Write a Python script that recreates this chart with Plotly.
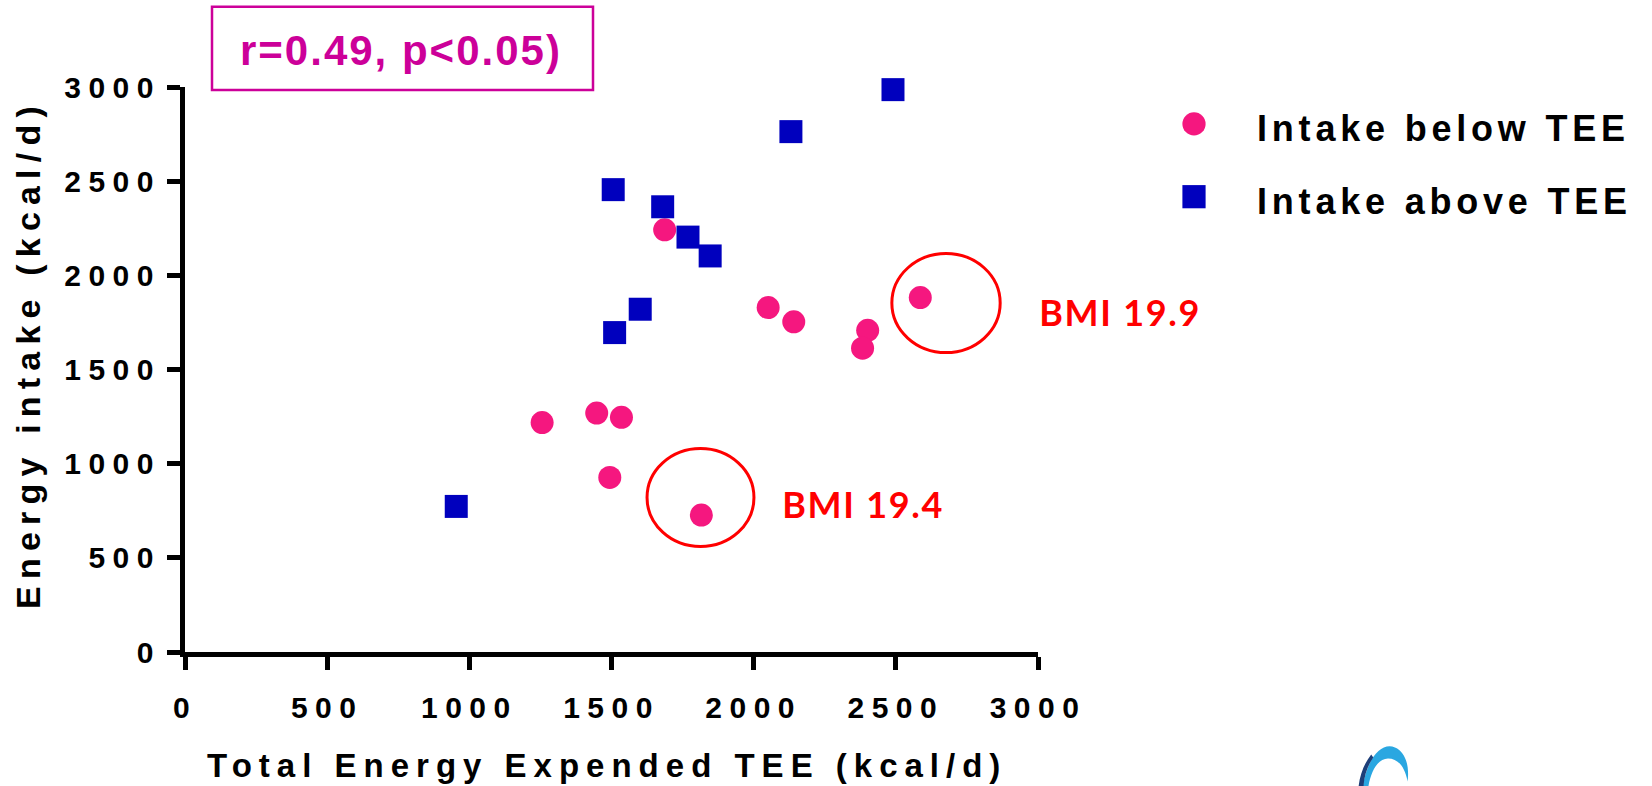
import plotly.graph_objects as go

# ---- data ----
below_x = [1687, 2051, 2141, 2401, 2383, 2586, 1256, 1448, 1535, 1494, 1816]
below_y = [2242, 1829, 1753, 1708, 1613, 1882, 1218, 1269, 1246, 927, 727]
above_x = [2490, 2131, 1506, 1680, 1769, 1847, 1601, 1511, 954]
above_y = [2986, 2763, 2455, 2364, 2203, 2103, 1820, 1696, 773]

tick_vals = [0, 500, 1000, 1500, 2000, 2500, 3000]
tick_text = ["0", "500", "1000", "1500", "2000", "2500", "3000"]

series_names = ["Intake below TEE", "Intake above TEE"]
x_title = "Total Energy Expended TEE (kcal/d)"
y_title = "Energy intake (kcal/d)"
stat_text = "r=0.49, p<0.05)"
bmi_labels = ["BMI 19.9", "BMI 19.4"]

PINK = "#F5177F"
BLUE = "#0000BE"
MAG = "#CC0099"
RED = "#FF0000"
AX_FONT = dict(family="Liberation Sans, Arial", weight="bold", color="black")

fig = go.Figure()
fig.add_trace(go.Scatter(
    x=below_x, y=below_y, mode="markers", name=series_names[0],
    legendgroup="a", cliponaxis=False,
    marker=dict(symbol="circle", size=23, color=PINK, line=dict(width=0)),
))
fig.add_trace(go.Scatter(
    x=above_x, y=above_y, mode="markers", name=series_names[1],
    legendgroup="b", cliponaxis=False,
    marker=dict(symbol="square", size=23, color=BLUE, line=dict(width=0)),
))

L, R_PX, T, B = 185, 1038, 87, 652.5
W, H = 1652, 786
pw, ph = R_PX - L, B - T

def px_x(p):
    return (p - L) / pw

def px_y(p):
    return (B - p) / ph

LOGO_X0, LOGO_SX = 1360, 0.7

def paper_path(cmds):
    out = []
    for c, pts in cmds:
        seg = c + " " + " ".join(
            "%.5f,%.5f" % (px_x(LOGO_X0 + (a - LOGO_X0) * LOGO_SX), px_y(b)) for a, b in pts)
        out.append(seg)
    return " ".join(out) + " Z"

# decorative logo fragment at the bottom-right corner (cut off in the reference)
logo_path = paper_path([
    ("M", [(1364, 787)]),
    ("C", [(1370, 760), (1390, 742), (1410, 748)]),
    ("C", [(1424, 752), (1431, 765), (1428, 782)]),
    ("C", [(1424, 767), (1414, 759), (1400, 759)]),
    ("C", [(1386, 759), (1376, 771), (1372, 787)]),
])
logo_edge = paper_path([
    ("M", [(1358, 787)]),
    ("C", [(1360, 775), (1366, 764), (1376, 755)]),
    ("L", [(1379, 758)]),
    ("C", [(1371, 766), (1366, 776), (1365, 787)]),
])

axis_common = dict(
    range=[0, 3000], showline=True, linewidth=5, linecolor="black",
    ticks="outside", tickwidth=4.5, tickcolor="black", ticklen=13,
    tickvals=tick_vals, ticktext=tick_text, showgrid=False, zeroline=False,
    tickfont=dict(size=30, **AX_FONT), fixedrange=True,
)

fig.update_layout(
    width=W, height=H,
    margin=dict(l=L, r=W - R_PX, t=T, b=H - B, pad=0, autoexpand=False),
    paper_bgcolor="white", plot_bgcolor="white",
    xaxis=dict(**axis_common, ticklabelstandoff=12),
    yaxis=dict(**axis_common, ticklabelstandoff=0),
    showlegend=True,
    legend=dict(
        x=px_x(1131), y=px_y(97), xanchor="left", yanchor="top",
        font=dict(size=36, family="Liberation Sans, Arial", weight="bold", color="black"),
        itemwidth=116, tracegroupgap=23, bgcolor="rgba(0,0,0,0)",
        traceorder="grouped",
    ),
    shapes=[
        dict(type="rect", xref="paper", yref="paper",
             x0=px_x(212), x1=px_x(593), y0=px_y(90), y1=px_y(6.7),
             line=dict(color=MAG, width=2.5)),
        dict(type="circle", xref="x", yref="y", x0=2486, x1=2867, y0=1590, y1=2116,
             line=dict(color=RED, width=3)),
        dict(type="circle", xref="x", yref="y", x0=1625, x1=2001, y0=560, y1=1080,
             line=dict(color=RED, width=3)),
        dict(type="path", xref="paper", yref="paper", path=logo_path,
             fillcolor="#2AA7E1", line=dict(width=0)),
        dict(type="path", xref="paper", yref="paper", path=logo_edge,
             fillcolor="#1D3E78", line=dict(width=0)),
    ],
    annotations=[
        dict(text=stat_text, xref="paper", yref="paper", x=px_x(401), y=px_y(50),
             xanchor="center", yanchor="middle", showarrow=False,
             font=dict(size=42, family="Liberation Sans, Arial", weight="bold", color=MAG)),
        dict(text=bmi_labels[0], xref="paper", yref="y", x=px_x(1044), y=1805,
             xanchor="left", yanchor="middle", showarrow=False,
             font=dict(size=36, family="Lato", weight="bold", color=RED)),
        dict(text=bmi_labels[1], xref="x", yref="y", x=2118, y=784,
             xanchor="left", yanchor="middle", showarrow=False,
             font=dict(size=36, family="Lato", weight="bold", color=RED)),
        dict(text=x_title, xref="paper", yref="paper", x=px_x(607), y=px_y(766),
             xanchor="center", yanchor="middle", showarrow=False,
             font=dict(size=33, **AX_FONT)),
        dict(text=y_title, xref="paper", yref="paper", x=px_x(28), y=px_y(355),
             xanchor="center", yanchor="middle", showarrow=False, textangle=-90,
             font=dict(size=34, **AX_FONT)),
    ],
)

css = (
    "html, body {margin:0 !important; padding:0 !important; overflow:hidden;}"
    ".xtick text, .ytick text {letter-spacing: 7.5px;}"
    ".legendtext {letter-spacing: 4.8px;}"
    ".legend .scrollbox, .legend g {clip-path: none !important;}"
    ".legendpoints path.scatterpts {transform: translate(63px, -3px) scale(1.45) !important;}"
    ".annotation[data-index='0'] text {letter-spacing: 2px;}"
    ".annotation[data-index='1'] text, .annotation[data-index='2'] text {letter-spacing: 1.7px;}"
    ".annotation[data-index='3'] text {letter-spacing: 7px;}"
    ".annotation[data-index='4'] text {letter-spacing: 7.2px;}"
)
post = ("var s=document.createElement('style');s.textContent=\"" + css +
        "\";document.head.appendChild(s);")

fig.write_html("out.html", post_script=post, config={"displayModeBar": False})
